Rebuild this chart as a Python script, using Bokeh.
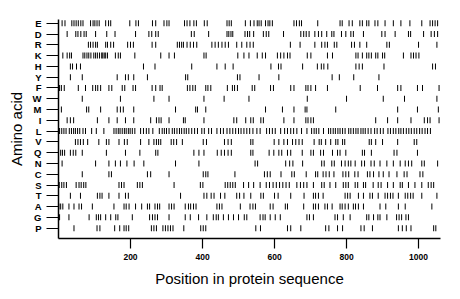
from bokeh.plotting import figure
from bokeh.models import Range1d, FixedTicker, ColumnDataSource
from bokeh.embed import file_html
from bokeh.resources import INLINE

amino_acids = ["E", "D", "R", "K", "H", "Y", "F", "W", "M", "I",
               "L", "V", "Q", "N", "C", "S", "T", "A", "G", "P"]

pos_E = [10, 18, 37, 43, 49, 55, 62, 68, 89, 96, 101, 107, 113, 131, 139, 145, 198, 215, 222, 261, 270, 293, 301, 307,
         350, 357, 365, 376, 383, 405, 413, 468, 474, 480, 519, 533, 543, 552, 557, 563, 575, 582, 587, 594, 654, 661, 669, 675,
         720, 782, 788, 807, 816, 837, 844, 856, 862, 879, 887, 907, 930, 951, 976, 1009, 1032, 1039, 1046, 1053]
pos_D = [24, 48, 54, 62, 71, 77, 103, 134, 157, 214, 251, 259, 270, 277,
         369, 377, 417, 468, 473, 479, 484, 518, 525, 531, 542, 569, 577, 584, 625, 673, 681, 688, 696,
         712, 722, 731, 745, 759, 765, 786, 798, 812, 819, 847, 898, 907, 935, 972, 978, 1014, 1035, 1044, 1053]
pos_R = [83, 89, 96, 103, 108, 131, 136, 145, 153, 192, 200, 208, 260, 270, 330, 336, 342,
         347, 357, 366, 375, 384, 426, 435, 444, 454, 463, 472, 495, 509, 523, 532, 541, 644, 671,
         712, 731, 740, 747, 766, 773, 814, 822, 837, 856, 912, 919, 1000, 1051]
pos_K = [12, 24, 31, 36, 68, 73, 79, 84, 90, 98, 103, 108, 114, 120, 123, 127, 131, 136, 158, 166, 172, 212, 284, 307, 322,
         404, 410, 498, 515, 529, 552, 566, 575, 608, 617, 626, 636, 643, 691,
         701, 747, 761, 826, 832, 844, 856, 862, 869, 881, 887, 900, 906, 958, 979, 986, 993, 1001]
pos_H = [33, 39, 50, 61, 236, 268, 370, 440, 463, 485, 590, 611, 618, 678, 719, 730, 737, 748, 826, 835, 844, 904, 1039, 1047]
pos_Y = [33, 66, 163, 186, 194, 209, 247, 353, 359, 497, 504, 557, 612, 760, 780, 820, 890]
pos_F = [3, 8, 16, 55, 75, 95, 103, 109, 117, 140, 148, 177, 184, 207, 214, 260, 270, 282, 288,
         358, 365, 373, 380, 409, 415, 423, 469, 483, 489, 497, 538, 545, 589, 597, 645, 654,
         687, 693, 701, 714, 747, 838, 886, 942, 951, 997, 1011, 1057]
pos_W = [66, 172, 265, 307, 404, 460, 529, 691, 800, 902, 961, 1051]
pos_M = [8, 78, 84, 117, 163, 172, 180, 209, 325, 381, 386, 409, 575, 622, 654, 685, 690, 770, 942, 997, 1055]
pos_I = [24, 33, 42, 108, 140, 163, 186, 209, 256, 272, 279, 285, 307, 347, 352, 404, 487, 495, 520, 534, 541, 562, 569,
         626, 654, 687, 693, 701, 708, 881, 914, 942, 979, 1016, 1025, 1032, 1057]
pos_L = [3, 9, 15, 21, 30, 36, 42, 47, 53, 59, 68, 75, 92, 105, 126, 154, 160, 166, 171, 177, 183, 188, 194, 199, 205, 212,
         228, 236, 244, 251, 262, 280, 288, 294, 300, 307, 316, 322, 329, 336, 342,
         349, 355, 362, 370, 378, 386, 398, 405, 417, 425, 440, 450, 458, 468, 476, 484, 492, 500, 507, 515, 523, 531, 540,
         551, 560, 578, 586, 594, 602, 617, 628, 636, 645, 653, 662, 675, 690,
         703, 710, 716, 723, 736, 750, 756, 763, 769, 776, 782, 789, 796, 806, 812, 819, 826, 832, 840, 846, 852, 860, 868,
         878, 885, 894, 902, 915, 922, 930, 937, 945, 951, 958, 966, 973, 980, 988, 995, 1003, 1010, 1018, 1025, 1033]
pos_V = [47, 54, 61, 69, 81, 112, 133, 140, 168, 183, 191, 228, 251, 265, 272, 278,
         284, 313, 320, 328, 344, 402, 411, 461, 471, 480, 534, 540, 599, 612, 626, 636, 650, 659, 668, 677,
         710, 724, 730, 742, 756, 770, 776, 789, 795, 863, 869, 881, 900, 942, 988, 995]
pos_Q = [6, 11, 17, 33, 41, 48, 66, 133, 186, 226, 270, 276,
         376, 390, 404, 441, 452, 461, 471, 480, 534, 540, 585, 598, 612, 620, 636, 645, 677,
         701, 708, 728, 736, 761, 775, 782, 798, 844, 850, 869, 932, 940, 997]
pos_N = [10, 103, 140, 158, 172, 190, 210, 237, 325, 390, 546, 553, 631, 642, 651, 678,
         731, 738, 759, 766, 786, 796, 805, 812, 824, 842, 850, 868, 877, 893, 912, 930, 949, 963, 972, 981, 1009, 1016, 1053]
pos_C = [66, 140, 147, 247, 256, 307, 402, 409, 415, 490, 572, 580, 588, 618, 648, 655, 688,
         714, 720, 735, 743, 752, 765, 790, 798, 806, 823, 832, 858, 865, 875, 890, 902, 918, 940, 960, 968, 1004, 1012]
pos_S = [2, 9, 15, 22, 49, 57, 63, 70, 76, 168, 175, 182, 219, 226, 233, 321,
         394, 401, 463, 470, 477, 484, 491, 514, 528, 542, 560, 577, 586, 596, 605, 614, 623, 632, 641, 662, 672, 681, 690,
         708, 731, 738, 754, 770, 791, 798, 805, 824, 831, 847, 853, 874, 888, 896, 914, 930, 949, 955, 972, 990, 1009,
         1027, 1035, 1042]
pos_T = [33, 61, 108, 115, 121, 140, 168, 186, 194,
         339, 404, 412, 424, 432, 450, 462, 495, 503, 515, 534, 562, 569, 600, 610, 645, 682,
         708, 714, 722, 735, 796, 803, 810, 833, 847, 865, 872, 888, 907, 914, 922, 929, 944, 963, 970, 978, 985, 1009, 1051]
pos_A = [1, 6, 12, 29, 43, 57, 64, 94, 154, 182, 188, 196, 214, 231, 247, 253, 268, 275, 281, 307, 314, 321,
         352, 361, 367, 375, 382, 440, 447, 454, 505, 532, 540, 547, 588, 596, 630, 636, 681,
         708, 714, 722, 740, 747, 760, 782, 788, 796, 805, 819, 825, 833, 847, 893, 909, 944, 963, 1037]
pos_G = [3, 29, 85, 105, 111, 117, 131, 145, 159, 165, 205, 253, 261, 268, 275, 307,
         352, 366, 389, 412, 430, 438, 444, 458, 472, 486, 500, 516, 523, 560, 568, 574, 588, 602, 616, 690, 697,
         708, 768, 775, 791, 810, 856, 862, 875, 887, 893, 912, 939, 946, 953, 965, 972]
pos_P = [43, 107, 115, 156, 170, 182, 188, 195, 258, 265, 272, 290, 297, 304, 311, 318, 348, 395, 402, 409, 548, 561,
         636, 645, 673, 742, 751, 775, 789, 840, 849, 872, 944, 955, 966, 979, 1042, 1048]

positions = {"E": pos_E, "D": pos_D, "R": pos_R, "K": pos_K, "H": pos_H, "Y": pos_Y, "F": pos_F,
             "W": pos_W, "M": pos_M, "I": pos_I, "L": pos_L, "V": pos_V, "Q": pos_Q, "N": pos_N,
             "C": pos_C, "S": pos_S, "T": pos_T, "A": pos_A, "G": pos_G, "P": pos_P}

x_ticks = [200, 400, 600, 800, 1000]
seq_length = 1061

n = len(amino_acids)
row_index = {aa: n - 1 - i for i, aa in enumerate(amino_acids)}

xs, ys = [], []
for aa in amino_acids:
    for v in positions[aa]:
        xs.append(v)
        ys.append(row_index[aa])
src = ColumnDataSource(data=dict(x=xs, y=ys))

FONT = "Liberation Sans"

p = figure(width=460, height=299, output_backend="svg", toolbar_location=None,
           x_range=Range1d(0, seq_length), y_range=Range1d(-0.96, n - 1 + 0.35),
           min_border_left=58, min_border_right=20, min_border_top=19, min_border_bottom=61)

p.rect(x="x", y="y", width=1, height=6, width_units="screen", height_units="screen",
       source=src, fill_color="black", line_color=None)

p.grid.visible = False
p.outline_line_color = None
p.background_fill_color = "white"
p.border_fill_color = "white"

xa = p.xaxis[0]
xa.ticker = FixedTicker(ticks=x_ticks)
xa.axis_label = "Position in protein sequence"
xa.axis_label_text_font = FONT
xa.axis_label_text_font_size = "15px"
xa.axis_label_text_font_style = "normal"
xa.axis_label_text_color = "black"
xa.axis_label_standoff = 7
xa.major_label_text_font = FONT
xa.major_label_text_font_size = "8.5px"
xa.major_label_text_font_style = "bold"
xa.major_label_text_color = "black"
xa.major_label_standoff = 5
xa.major_tick_out = 10
xa.major_tick_in = 0
xa.minor_tick_out = 0
xa.minor_tick_in = 0
xa.axis_line_width = 1.5
xa.major_tick_line_width = 1.2
xa.axis_line_color = "black"
xa.major_tick_line_color = "black"

ya = p.yaxis[0]
ya.ticker = FixedTicker(ticks=list(range(n)))
ya.major_label_overrides = {row_index[aa]: aa for aa in amino_acids}
ya.axis_label = "Amino acid"
ya.axis_label_text_font = FONT
ya.axis_label_text_font_size = "15px"
ya.axis_label_text_font_style = "normal"
ya.axis_label_text_color = "black"
ya.axis_label_standoff = 5
ya.major_label_text_font = FONT
ya.major_label_text_font_size = "9.5px"
ya.major_label_text_font_style = "bold"
ya.major_label_text_color = "black"
ya.major_label_standoff = 5
ya.major_tick_out = 12
ya.major_tick_in = 0
ya.minor_tick_out = 0
ya.minor_tick_in = 0
ya.axis_line_width = 1.5
ya.major_tick_line_width = 1.2
ya.axis_line_color = "black"
ya.major_tick_line_color = "black"

open("out.html", "w").write(file_html(p, INLINE))
